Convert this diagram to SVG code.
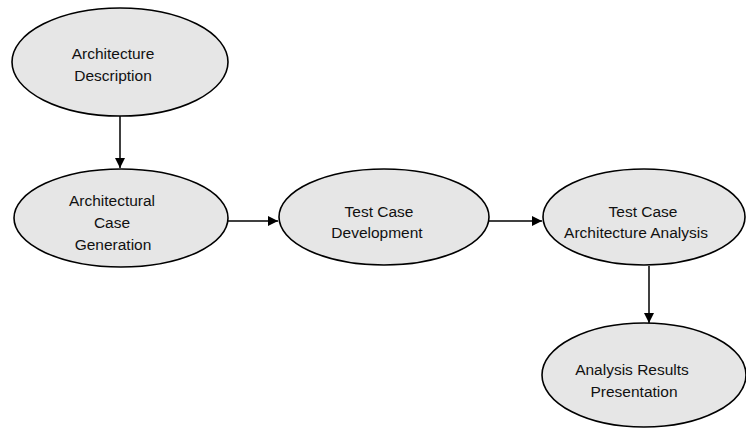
<svg xmlns="http://www.w3.org/2000/svg" width="746" height="430" viewBox="0 0 746 430">
<style>
.n{fill:#e6e6e6;stroke:#000;stroke-width:1.6}
.t{font-family:"Liberation Sans",Arial,sans-serif;font-size:15.5px;fill:#111;text-anchor:middle}
.c{stroke:#000;stroke-width:1.5;fill:none;marker-end:url(#ah)}
</style>
<defs>
<marker id="ah" markerWidth="10" markerHeight="10" refX="10" refY="5" orient="auto" markerUnits="userSpaceOnUse">
<path d="M0,0 L10,5 L0,10 Z" fill="#000"/>
</marker>
</defs>
<rect width="746" height="430" fill="#fff"/>
<g id="connectors">
<line class="c" x1="120" y1="116" x2="120" y2="168"/>
<line class="c" x1="228" y1="221" x2="278" y2="221"/>
<line class="c" x1="489" y1="221" x2="542" y2="221"/>
<line class="c" x1="649" y1="266" x2="649" y2="323"/>
</g>
<g id="n1">
<ellipse class="n" cx="120" cy="62" rx="108" ry="54"/>
<text class="t" x="113" y="59">Architecture</text>
<text class="t" x="113" y="81">Description</text>
</g>
<g id="n2">
<ellipse class="n" cx="121" cy="218" rx="107" ry="49"/>
<text class="t" x="112" y="206">Architectural</text>
<text class="t" x="112" y="228">Case</text>
<text class="t" x="113" y="250">Generation</text>
</g>
<g id="n3">
<ellipse class="n" cx="384" cy="217" rx="105" ry="48"/>
<text class="t" x="379" y="217">Test Case</text>
<text class="t" x="377" y="238">Development</text>
</g>
<g id="n4">
<ellipse class="n" cx="644" cy="217" rx="101" ry="48"/>
<text class="t" x="643" y="217">Test Case</text>
<text class="t" x="636" y="238">Architecture Analysis</text>
</g>
<g id="n5">
<ellipse class="n" cx="644" cy="375" rx="102" ry="52"/>
<text class="t" x="632" y="375">Analysis Results</text>
<text class="t" x="634" y="397">Presentation</text>
</g>
</svg>
